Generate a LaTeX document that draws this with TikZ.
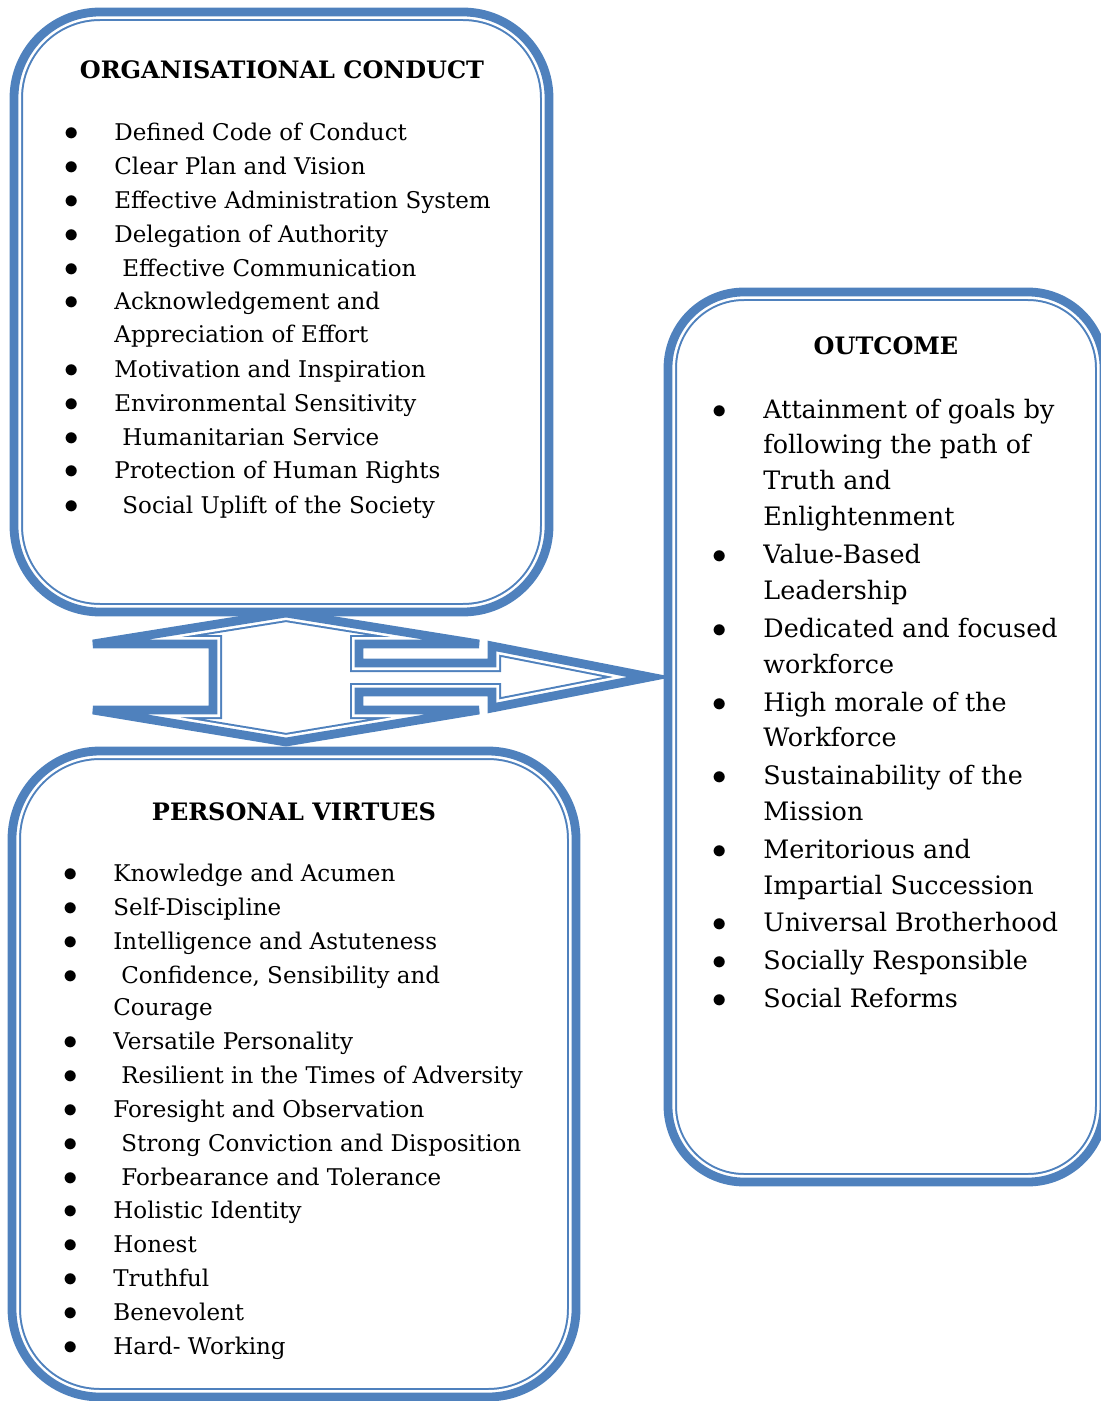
\documentclass[tikz,border=0pt]{standalone}
\usepackage{fontspec}
\setmainfont{DejaVu Serif}

\definecolor{frameblue}{HTML}{4F81BD}

% thick-thin frame: thick outer line, thin line inside
\newcommand{\thickthin}[1]{%
  \begin{scope}
    \clip #1;
    \draw[frameblue, line width=9pt] #1;
    \draw[white, line width=7pt] #1;
  \end{scope}
  \draw[frameblue, line width=4.4pt] #1;
}

\begin{document}
\begin{tikzpicture}[x=0.5pt, y=-0.5pt,
    item/.style={anchor=base west, inner sep=0pt, font=\fontsize{11.5}{13}\selectfont},
    bigitem/.style={item, font=\fontsize{12.7}{14}\selectfont},
    dot/.style={anchor=base, inner sep=0pt, font=\fontsize{14.5}{16}\selectfont},
    heading/.style={anchor=base, inner sep=0pt, font=\fontsize{12}{14}\selectfont\bfseries}]

    \useasboundingbox (0,0) rectangle (1100,1401);

    % Arrow between the boxes (up, down and right)
    \thickthin{(286,613) -- (479,644) -- (359,644) -- (359,663) -- (492,663) -- (492,646)
        -- (650,677) -- (492,708) -- (492,692) -- (359,692) -- (359,710) -- (479,710)
        -- (286,742) -- (93,710) -- (213,710) -- (213,644) -- (93,644) -- cycle}

    % The three boxes
    \thickthin{[rounded corners=43pt] (14,12) rectangle (549,612)}
    \thickthin{[rounded corners=44pt] (12,751) rectangle (576,1397)}
    \thickthin{[rounded corners=38pt] (668,292) rectangle (1104,1182)}

    % Organisational conduct
    \node[heading] (oc) at (282,79) {ORGANISATIONAL CONDUCT};
    \foreach \x/\y/\t [count=\i] in {114/141/Defined Code of Conduct, 114/175/Clear Plan and Vision,
        114/209/Effective Administration System, 114/243/Delegation of Authority,
        122/277/Effective Communication, 114/310/Acknowledgement and,
        114/343/Appreciation of Effort, 114/377/Motivation and Inspiration,
        114/411/Environmental Sensitivity, 122/445/Humanitarian Service,
        114/478/Protection of Human Rights, 122/513/Social Uplift of the Society} {
        \node[item] (oc\i) at (\x,\y) {\t};
    }
    \foreach \y [count=\i] in {141,175,209,243,277,310,377,411,445,478,513} {
        \node[dot] (ocb\i) at (72,\y) {$\bullet$};
    }

    % Outcome
    \node[heading] (out) at (886,355) {OUTCOME};
    \foreach \y/\t [count=\i] in {418/Attainment of goals by, 453/following the path of,
        489/Truth and, 525/Enlightenment, 563/Value-Based, 599/Leadership,
        637/Dedicated and focused, 673/workforce, 711/High morale of the,
        746/Workforce, 784/Sustainability of the, 820/Mission,
        858/Meritorious and, 894/Impartial Succession, 931/Universal Brotherhood,
        969/Socially Responsible, 1007/Social Reforms} {
        \node[bigitem] (out\i) at (763,\y) {\t};
    }
    \foreach \y [count=\i] in {418,563,637,711,784,858,931,969,1007} {
        \node[dot] (outb\i) at (720,\y) {$\bullet$};
    }

    % Personal virtues
    \node[heading] (pv) at (294,820) {PERSONAL VIRTUES};
    \foreach \x/\y/\t [count=\i] in {113/881/Knowledge and Acumen, 113/915/Self-Discipline,
        113/949/Intelligence and Astuteness, 121/983/{Confidence, Sensibility and},
        113/1015/Courage, 113/1049/Versatile Personality,
        121/1083/Resilient in the Times of Adversity, 113/1117/Foresight and Observation,
        121/1151/Strong Conviction and Disposition, 121/1185/Forbearance and Tolerance,
        113/1218/Holistic Identity, 113/1252/Honest, 113/1286/Truthful,
        113/1320/Benevolent, 113/1354/Hard- Working} {
        \node[item] (pv\i) at (\x,\y) {\t};
    }
    \foreach \y [count=\i] in {881,915,949,983,1049,1083,1117,1151,1185,1218,1252,1286,1320,1354} {
        \node[dot] (pvb\i) at (71,\y) {$\bullet$};
    }

\end{tikzpicture}
\end{document}
